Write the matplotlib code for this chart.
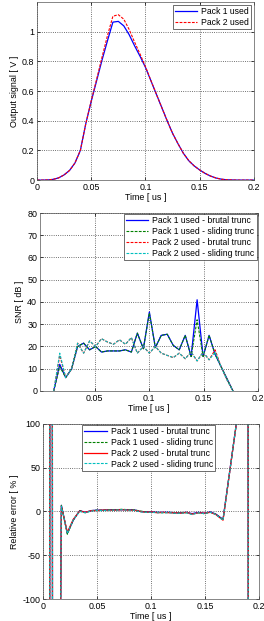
import numpy as np
import matplotlib
matplotlib.use("Agg")
from matplotlib import pyplot as plt

# Output signal (top panel)
t_sig = [0.000, 0.005, 0.010, 0.015, 0.020, 0.025, 0.030, 0.035, 0.040, 0.045,
         0.050, 0.055, 0.060, 0.065, 0.070, 0.075, 0.080, 0.085, 0.090, 0.095,
         0.100, 0.105, 0.110, 0.115, 0.120, 0.125, 0.130, 0.135, 0.140, 0.145,
         0.150, 0.155, 0.160, 0.165, 0.170, 0.175, 0.180, 0.185, 0.190, 0.195, 0.200]
sig_pack1 = [0.000, 0.000, 0.001, 0.005, 0.015, 0.035, 0.065, 0.115, 0.200, 0.380,
             0.530, 0.670, 0.810, 0.940, 1.065, 1.070, 1.040, 0.980, 0.905, 0.835,
             0.760, 0.670, 0.580, 0.490, 0.400, 0.315, 0.245, 0.180, 0.130, 0.095,
             0.068, 0.045, 0.027, 0.014, 0.006, 0.002, 0.001, 0.000, 0.000, 0.000, 0.000]
sig_pack2 = [0.000, 0.000, 0.001, 0.005, 0.015, 0.035, 0.065, 0.115, 0.200, 0.380,
             0.535, 0.680, 0.830, 0.975, 1.105, 1.115, 1.085, 1.015, 0.930, 0.850,
             0.765, 0.672, 0.580, 0.490, 0.400, 0.315, 0.245, 0.180, 0.130, 0.095,
             0.068, 0.045, 0.027, 0.014, 0.006, 0.002, 0.001, 0.000, 0.000, 0.000, 0.000]

# SNR (middle panel)
t_snr = [0.0126, 0.0181, 0.0236, 0.0290, 0.0345, 0.0400, 0.0455, 0.0510, 0.0564, 0.0619,
         0.0674, 0.0729, 0.0784, 0.0838, 0.0893, 0.0948, 0.1003, 0.1058, 0.1112, 0.1167,
         0.1222, 0.1277, 0.1332, 0.1386, 0.1441, 0.1496, 0.1551, 0.1606, 0.1660, 0.1715, 0.1770]
snr_p1_brutal = [0, 12, 6, 10, 20, 21.5, 18.5, 20, 17.5, 18,
                 18, 18, 18.5, 17.5, 26, 19, 35.5, 19.5, 25, 25.5,
                 20.5, 18.5, 25, 15.5, 41, 15.5, 25, 16.5, 11, 5.5, 0]
snr_p1_sliding = [0, 11, 6, 10, 20, 21.5, 18.5, 20, 17.5, 18,
                  18, 18, 18.5, 17.5, 26, 19, 35, 19.5, 25, 25.5,
                  20.5, 18.5, 25, 15.5, 32, 15.5, 25, 16.5, 11, 5.5, 0]
snr_p2_brutal = [0, 16, 6, 10, 21.5, 17, 22.5, 20, 23.5, 22,
                 21, 23, 21, 24, 17, 20, 17, 20, 17, 16,
                 15, 17, 14.5, 17.5, 13.5, 17.5, 14, 18.5, 11, 5, 0]
snr_p2_sliding = [0, 17, 6, 10, 21.5, 17, 22.5, 20, 23.5, 22,
                  21, 23, 21, 24, 17, 20, 17, 20, 17, 16,
                  15, 17, 14.5, 17.5, 13.5, 17.5, 14, 17.5, 11, 5, 0]

# Relative error (bottom panel)
t_err = [0.0020, 0.0060, 0.0064, 0.0085, 0.0089, 0.0140, 0.0170, 0.0225, 0.0280, 0.0340,
         0.0390, 0.0450, 0.0500, 0.0560, 0.0620, 0.0680, 0.0730, 0.0790, 0.0840, 0.0900,
         0.0950, 0.1000, 0.1060, 0.1110, 0.1170, 0.1220, 0.1280, 0.1330, 0.1380, 0.1440,
         0.1490, 0.1550, 0.1600, 0.1667, 0.1790, 0.1850, 0.1897, 0.1903, 0.2000]
err_p1_brutal = [-500, -500, 500, 500, -500, -500, 7, -25, -10, 1,
                 -1, 1, 1.5, 1.5, 2, 2, 2, 2, 2, 0,
                 -0.5, -0.5, -1, -1, -1, -1.5, -1.5, -1, -2.5, -1,
                 -2, -0.5, -3, -9, 100, 200, 500, -500, -500]
err_p1_sliding = [-500, -500, 500, 500, -500, -500, 7, -26, -10, 1,
                  -1.5, 1, 1.5, 1.5, 2, 2, 2.5, 2, 2, 0.5,
                  -0.5, -1, -1, -1.5, -1, -2, -1.5, -1.5, -3, -1.5,
                  -2.5, -1, -3, -9.5, 100, 200, 500, -500, -500]
err_p2_brutal = [-500, -500, 500, 500, -500, -500, 6, -24, -9, 0.5,
                 -1, 1, 1, 1.5, 1.5, 1.5, 2, 1.5, 1.5, 0,
                 -1, -0.5, -1.5, -1, -1.5, -1.5, -2, -1, -3, -1.5,
                 -2, -1, -3.5, -10, 100, 200, 500, -500, -500]
err_p2_sliding = [-500, -500, 500, 500, -500, -500, 6, -25, -9.5, 0,
                  -1.5, 0.5, 1, 1, 1.5, 1.5, 2, 1.5, 1.5, -0.5,
                  -1, -1, -1.5, -1.5, -1.5, -2, -2, -1.5, -3.5, -1.5,
                  -2.5, -1, -3.5, -10, 100, 200, 500, -500, -500]

BLUE = (0, 0, 1)
GREEN = (0, 0.5, 0)
RED = (1, 0, 0)
CYAN = (0, 0.75, 0.75)
FS = 6.4
LEG_FS = 6.2

plt.rcParams["font.family"] = ["Liberation Sans", "DejaVu Sans"]
plt.rcParams["font.size"] = FS
plt.rcParams["axes.unicode_minus"] = False


def style_axes(ax):
    """Matlab-like box, inward ticks and dotted grid."""
    ax.grid(True, linestyle=":", linewidth=0.6, color="#444444")
    ax.tick_params(direction="in", length=2, width=0.5, top=True, right=True,
                   labelsize=FS, pad=2)
    for sp in ax.spines.values():
        sp.set_linewidth(0.5)
        sp.set_color("#555555")
    ax.set_xlabel("Time [ us ]", fontsize=FS, labelpad=1)


def add_legend(ax, pad=0.3, **kw):
    leg = ax.legend(fontsize=LEG_FS, fancybox=False, framealpha=1, edgecolor="#333333",
                    handlelength=2.6, handletextpad=0.5, borderpad=0.25, labelspacing=0.2,
                    borderaxespad=pad, **kw)
    leg.get_frame().set_linewidth(0.5)
    return leg


fig = plt.figure(figsize=(2.64, 6.21), dpi=100)

# Top panel: output signal
ax1 = fig.add_axes([0.140, 0.710, 0.822, 0.2866])
ax1.plot(t_sig, sig_pack1, color=BLUE, lw=0.9, label="Pack 1 used")
ax1.plot(t_sig, sig_pack2, color=RED, lw=0.8, ls="--", dashes=(2.5, 1.2), label="Pack 2 used")
ax1.set_xlim(0, 0.2)
ax1.set_ylim(0, 1.2)
ax1.set_xticks([0, 0.05, 0.1, 0.15, 0.2])
ax1.set_xticklabels(["0", "0.05", "0.1", "0.15", "0.2"])
ax1.set_yticks([0, 0.2, 0.4, 0.6, 0.8, 1.0])
ax1.set_yticklabels(["0", "0.2", "0.4", "0.6", "0.8", "1"])
ax1.set_ylabel("Output signal [ V ]", fontsize=FS, labelpad=2)
style_axes(ax1)
add_legend(ax1, loc="upper right")

# Middle panel: SNR
ax2 = fig.add_axes([0.1515, 0.3704, 0.826, 0.2866])
ax2.plot(t_snr, snr_p1_brutal, color=BLUE, lw=0.9, label="Pack 1 used - brutal trunc")
ax2.plot(t_snr, snr_p1_sliding, color=GREEN, lw=0.8, ls="--", dashes=(2.5, 1.2),
         label="Pack 1 used - sliding trunc")
ax2.plot(t_snr, snr_p2_brutal, color=RED, lw=0.8, ls="--", dashes=(2.5, 1.2),
         label="Pack 2 used - brutal trunc")
ax2.plot(t_snr, snr_p2_sliding, color=CYAN, lw=0.8, ls="--", dashes=(2.5, 1.2),
         label="Pack 2 used - sliding trunc")
ax2.set_xlim(0, 0.2)
ax2.set_ylim(0, 80)
ax2.set_xticks([0.05, 0.1, 0.15, 0.2])
ax2.set_xticklabels(["0.05", "0.1", "0.15", "0.2"])
ax2.set_yticks(np.arange(0, 81, 10))
ax2.set_ylabel("SNR [ dB ]", fontsize=FS, labelpad=2)
style_axes(ax2)
add_legend(ax2, pad=0.15, loc="upper right")

# Bottom panel: relative error
ax3 = fig.add_axes([0.163, 0.0354, 0.818, 0.282])
ax3.plot(t_err, err_p1_brutal, color=BLUE, lw=0.9, label="Pack 1 used - brutal trunc")
ax3.plot(t_err, err_p1_sliding, color=GREEN, lw=0.8, ls="--", dashes=(2.5, 1.2),
         label="Pack 1 used - sliding trunc")
ax3.plot(t_err, err_p2_brutal, color=RED, lw=0.9, label="Pack 2 used - brutal trunc")
ax3.plot(t_err, err_p2_sliding, color=CYAN, lw=0.8, ls="--", dashes=(2.5, 1.2),
         label="Pack 2 used - sliding trunc")
ax3.set_xlim(0, 0.2)
ax3.set_ylim(-100, 100)
ax3.set_xticks([0, 0.05, 0.1, 0.15, 0.2])
ax3.set_xticklabels(["0", "0.05", "0.1", "0.15", "0.2"])
ax3.set_yticks([-100, -50, 0, 50, 100])
ax3.set_ylabel("Relative error [ % ]", fontsize=FS, labelpad=2)
style_axes(ax3)
add_legend(ax3, pad=0.15, loc="upper center", bbox_to_anchor=(0.49, 1.0))

fig.savefig("out.png", dpi=100)
